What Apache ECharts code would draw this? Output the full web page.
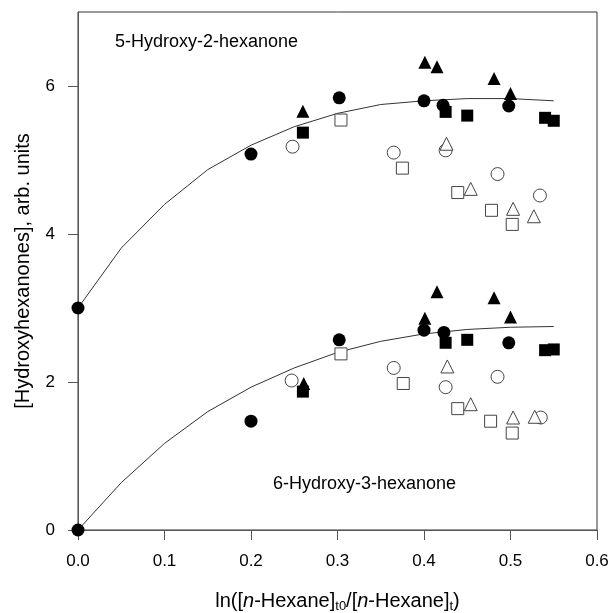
<!DOCTYPE html>
<html>
<head>
<meta charset="utf-8">
<script src="https://cdn.jsdelivr.net/npm/echarts@6/dist/echarts.min.js"></script>
<style>
  html, body { margin: 0; padding: 0; background: #fff; }
  #chart { width: 612px; height: 613px; }
</style>
</head>
<body>
<div id="chart"></div>
<script>
// fitted curves
const curveX = [0, 0.05, 0.1, 0.15, 0.2, 0.25, 0.3, 0.35, 0.4, 0.45, 0.5, 0.55]
const curve52 = [3.0, 3.81, 4.40, 4.87, 5.20, 5.45, 5.63, 5.75, 5.80, 5.83, 5.83, 5.80]
const curve63 = [0, 0.64, 1.17, 1.60, 1.93, 2.19, 2.40, 2.55, 2.65, 2.71, 2.74, 2.75]

// 5-hydroxy-2-hexanone points
const filledCircle52 = [[0, 3.0], [0.2, 5.08], [0.302, 5.84], [0.400, 5.80], [0.422, 5.74], [0.498, 5.73]]
const filledTriangle52 = [[0.260, 5.66], [0.401, 6.32], [0.415, 6.26], [0.481, 6.10], [0.500, 5.90]]
const filledSquare52 = [[0.260, 5.37], [0.425, 5.65], [0.450, 5.60], [0.540, 5.57], [0.550, 5.53]]
const openCircle52 = [[0.248, 5.18], [0.365, 5.10], [0.425, 5.13], [0.485, 4.81], [0.534, 4.52]]
const openSquare52 = [[0.304, 5.54], [0.375, 4.89], [0.439, 4.56], [0.478, 4.32], [0.502, 4.13]]
const openTriangle52 = [[0.426, 5.22], [0.454, 4.61], [0.503, 4.34], [0.527, 4.24]]

// 6-hydroxy-3-hexanone points
const filledCircle63 = [[0, 0], [0.200, 1.47], [0.302, 2.57], [0.400, 2.70], [0.423, 2.67], [0.498, 2.53]]
const filledTriangle63 = [[0.261, 1.98], [0.401, 2.86], [0.415, 3.22], [0.481, 3.14], [0.500, 2.88]]
const filledSquare63 = [[0.260, 1.87], [0.425, 2.53], [0.450, 2.57], [0.540, 2.43], [0.550, 2.44]]
const openCircle63 = [[0.247, 2.02], [0.365, 2.19], [0.425, 1.93], [0.485, 2.07], [0.535, 1.52]]
const openSquare63 = [[0.304, 2.38], [0.376, 1.98], [0.439, 1.64], [0.477, 1.47], [0.502, 1.31]]
const openTriangle63 = [[0.427, 2.21], [0.454, 1.70], [0.503, 1.52], [0.528, 1.53]]

const yTicks = [0, 2, 4, 6]

const font = 'Liberation Sans'

function lineSeries(ys) {
  return {
    type: 'line',
    data: curveX.map((x, i) => [x, ys[i]]),
    symbol: 'none',
    smooth: false,
    z: 1,
    lineStyle: { color: '#333', width: 1 }
  }
}

function pts(data, symbol, filled, size) {
  return {
    type: 'scatter',
    data: data,
    symbol: symbol,
    symbolSize: size,
    clip: false,
    z: 3,
    itemStyle: filled
      ? { color: '#000', borderWidth: 0, opacity: 1 }
      : { color: '#fff', borderColor: '#444', borderWidth: 1, opacity: 1 }
  }
}

let chart = echarts.init(document.getElementById('chart'))

chart.setOption({
  animation: false,
  grid: {
    left: 78,
    right: 15,
    top: 12,
    bottom: 83,
    outerBoundsMode: 'none',
    show: true,
    borderColor: '#333',
    borderWidth: 1
  },
  xAxis: {
    type: 'value',
    min: 0,
    max: 0.6,
    interval: 0.1,
    name: '{a|ln([}{i|n}{a|-Hexane]}{s|t0}{a|/[}{i|n}{a|-Hexane]}{s|t}{a|)}',
    nameLocation: 'middle',
    nameGap: 59,
    nameTextStyle: {
      rich: {
        a: { fontFamily: font, fontSize: 20, color: '#000' },
        i: { fontFamily: font, fontSize: 20, fontStyle: 'italic', color: '#000' },
        s: { fontFamily: font, fontSize: 13, color: '#000', padding: [11, 0, 0, 0] }
      }
    },
    splitLine: { show: false },
    axisLine: { lineStyle: { color: '#555', width: 1 } },
    axisTick: { show: true, inside: false, length: 10, lineStyle: { color: '#555' } },
    axisLabel: {
      margin: 23,
      fontFamily: font,
      fontSize: 17,
      color: '#000',
      formatter: v => v.toFixed(1)
    }
  },
  yAxis: {
    type: 'value',
    min: 0,
    max: 7,
    interval: 1,
    name: '[Hydroxyhexanones], arb. units',
    nameLocation: 'middle',
    nameGap: 45,
    nameTextStyle: { fontFamily: font, fontSize: 20, color: '#000' },
    splitLine: { show: false },
    axisLine: { lineStyle: { color: '#555', width: 1 } },
    axisTick: { show: true, length: 10, customValues: yTicks, lineStyle: { color: '#555' } },
    axisLabel: {
      margin: 23,
      fontFamily: font,
      fontSize: 17,
      color: '#000',
      customValues: yTicks
    }
  },
  graphic: [
    {
      type: 'text',
      left: 115,
      top: 33,
      style: { text: '5-Hydroxy-2-hexanone', fontFamily: font, fontSize: 18, fill: '#000' }
    },
    {
      type: 'text',
      left: 273,
      top: 475,
      style: { text: '6-Hydroxy-3-hexanone', fontFamily: font, fontSize: 18, fill: '#000' }
    }
  ],
  series: [
    lineSeries(curve52),
    lineSeries(curve63),
    pts(filledCircle52, 'circle', true, 13),
    pts(filledTriangle52, 'triangle', true, 13),
    pts(filledSquare52, 'rect', true, 12),
    pts(openCircle52, 'circle', false, 13),
    pts(openSquare52, 'rect', false, 12),
    pts(openTriangle52, 'triangle', false, 13),
    pts(filledCircle63, 'circle', true, 13),
    pts(filledTriangle63, 'triangle', true, 13),
    pts(filledSquare63, 'rect', true, 12),
    pts(openCircle63, 'circle', false, 13),
    pts(openSquare63, 'rect', false, 12),
    pts(openTriangle63, 'triangle', false, 13)
  ]
})
</script>
</body>
</html>
